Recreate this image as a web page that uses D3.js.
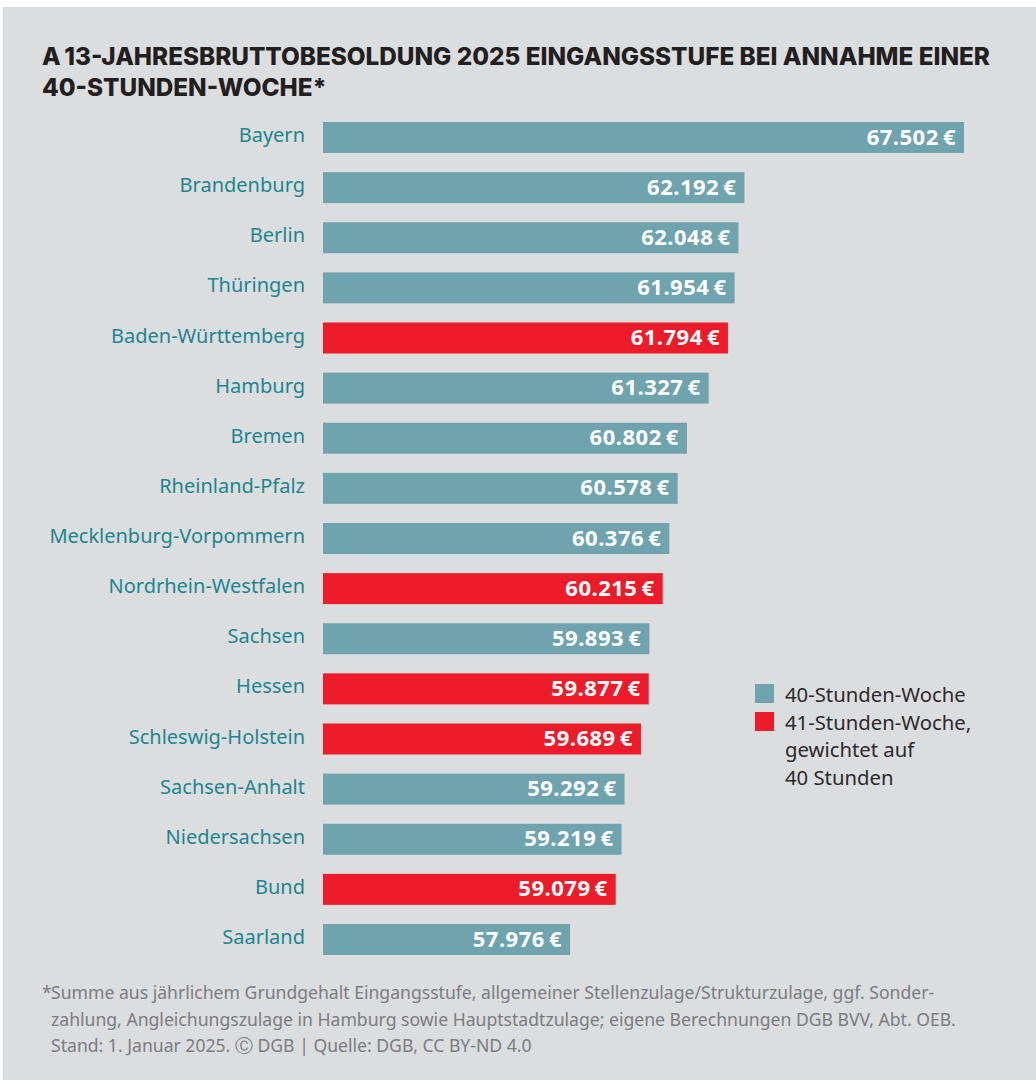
<!DOCTYPE html>
<html><head><meta charset="utf-8">
<script src="https://cdn.jsdelivr.net/npm/d3@7"></script>
<style>
html,body{margin:0;padding:0;background:#fff;}
svg{display:block;}
</style></head>
<body>
<svg id="c" width="1036" height="1082"></svg>
<script>
const states = ["Bayern","Brandenburg","Berlin","Thüringen","Baden-Württemberg","Hamburg","Bremen","Rheinland-Pfalz","Mecklenburg-Vorpommern","Nordrhein-Westfalen","Sachsen","Hessen","Schleswig-Holstein","Sachsen-Anhalt","Niedersachsen","Bund","Saarland"];
const values = [67502,62192,62048,61954,61794,61327,60802,60578,60376,60215,59893,59877,59689,59292,59219,59079,57976];
const weekType = ["40","40","40","40","41","40","40","40","40","41","40","41","41","40","40","41","40"];
const legendItems = [{key:"40", lines:["40-Stunden-Woche"]},{key:"41", lines:["41-Stunden-Woche,","gewichtet auf","40 Stunden"]}];
const titleLines = ["A\u200913-JAHRESBRUTTOBESOLDUNG 2025 EINGANGSSTUFE BEI ANNAHME EINER","40-STUNDEN-WOCHE*"];
const footLines = ["Summe aus jährlichem Grundgehalt Eingangsstufe, allgemeiner Stellenzulage/Strukturzulage, ggf. Sonder-","zahlung, Angleichungszulage in Hamburg sowie Hauptstadtzulage; eigene Berechnungen DGB BVV, Abt. OEB.","Stand: 1. Januar 2025. \u24b8 DGB | Quelle: DGB, CC BY-ND 4.0"];

const colors = {"40":"#6fa4af","41":"#ee1c2b"};
const svg = d3.select("#c");
svg.append("rect").attr("x",3).attr("y",7).attr("width",1033).attr("height",1073).attr("fill","#dcdddf");

const bodyFont = "'Noto Sans', 'Open Sans', sans-serif";
const titleFont = "Inter, 'DejaVu Sans', sans-serif";

svg.append("g").selectAll("text").data(titleLines).join("text")
  .attr("x",42).attr("y",(d,i)=>65+i*31)
  .attr("font-family",titleFont).attr("font-weight",800).attr("font-size",24.3)
  .attr("fill","#231f20").text(d=>d);

const x = d3.scaleLinear().domain([52000, 67502]).range([323, 964]);
const barH = 31, step = 50.125;
const y = d3.scalePoint().domain(states).range([122, 122+step*(states.length-1)]);

const fmt = d3.formatLocale({decimal:",",thousands:".",grouping:[3],currency:["","\u2009€"]}).format(",d");

const g = svg.append("g");
g.selectAll("rect").data(states).join("rect")
  .attr("x",x(52000)).attr("y",d=>y(d))
  .attr("width",(d,i)=>x(values[i])-x(52000)).attr("height",barH)
  .attr("fill",(d,i)=>colors[weekType[i]]);

g.selectAll("text.lab").data(states).join("text").attr("class","lab")
  .attr("x",305).attr("y",d=>y(d)+20).attr("text-anchor","end")
  .attr("font-family",bodyFont).attr("font-size",20).attr("fill","#1b8691").text(d=>d);

g.selectAll("text.val").data(states).join("text").attr("class","val")
  .attr("x",(d,i)=>x(values[i])-8).attr("y",d=>y(d)+22.5).attr("text-anchor","end")
  .attr("font-family",bodyFont).attr("font-weight",700).attr("font-size",22).attr("letter-spacing",0.5).attr("fill","#fff")
  .text((d,i)=>fmt(values[i])+"\u2009€");

const lg = svg.append("g");
legendItems.forEach((it,k)=>{
  const top = k===0 ? 684 : 712;
  lg.append("rect").attr("x",755).attr("y",top).attr("width",19).attr("height",19).attr("fill",colors[it.key]);
  it.lines.forEach((l,j)=>{
    lg.append("text").attr("x",785).attr("y",top+18+j*27.3)
      .attr("font-family",bodyFont).attr("font-size",20.3).attr("fill","#2b2a2c").text(l);
  });
});

const fg = svg.append("g").attr("font-family",bodyFont).attr("font-size",17.6).attr("fill","#7b7c7f");
fg.append("text").attr("x",42).attr("y",999).text("*");
footLines.forEach((l,i)=>{
  fg.append("text").attr("x",51).attr("y",999+i*26.7).text(l);
});
</script>
</body></html>
